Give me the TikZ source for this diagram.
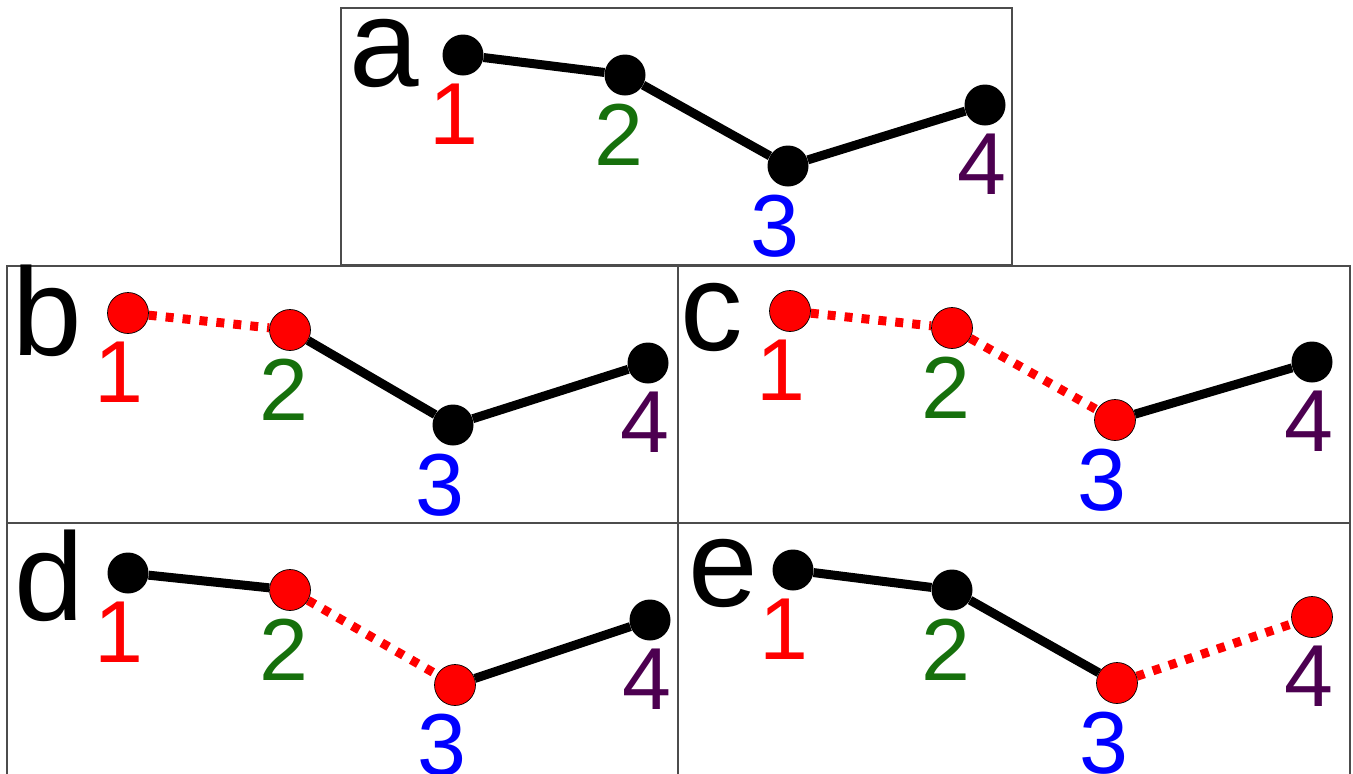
\documentclass[tikz,border=0pt]{standalone}
\usepackage{fontspec}
\setmainfont{Liberation Sans}
\usepackage{xcolor}
\usetikzlibrary{positioning, backgrounds}

\definecolor{numred}{RGB}{255,0,0}
\definecolor{numgreen}{RGB}{22,112,12}
\definecolor{numblue}{RGB}{0,0,255}
\definecolor{numpurple}{RGB}{76,0,80}

\tikzset{
    bead/.style={circle, fill=black, minimum size=41pt, inner sep=0pt},
    redbead/.style={circle, fill=numred, draw=black, line width=0.7pt, minimum size=41pt, inner sep=0pt},
    bond/.style={line width=9pt, black},
    cut/.style={line width=9pt, numred, dash pattern=on 8pt off 9pt},
    panel/.style={draw=black!70, line width=1.2pt},
    tag/.style={font=\fontsize{125}{125}\selectfont, anchor=base west, inner sep=0pt},
    num/.style={font=\fontsize{88}{88}\selectfont, inner sep=0pt, below=8pt of #1},
    lab1/.style={num=#1, numred, xshift=-9pt},
    lab2/.style={num=#1, numgreen, xshift=-6pt},
    lab3/.style={num=#1, numblue, xshift=-13pt},
    lab4/.style={num=#1, numpurple, xshift=-3pt},
}

\begin{document}
\begin{tikzpicture}[x=1pt, y=-1pt]
    \useasboundingbox (0,0) rectangle (1353,774);

    % Frames
    \draw[panel] (341,8) rectangle (1012,265);
    \draw[panel] (7,266) rectangle (678,523);
    \draw[panel] (678,266) rectangle (1350,523);
    \draw[panel] (7,523) rectangle (678,780);
    \draw[panel] (678,523) rectangle (1350,780);

    % Panel a: intact chain
    \begin{scope}[shift={(341,8)}]
        \node[tag] (tag-a) at (8,78) {a};
        \node[bead] (a1) at (122,47) {};
        \node[bead] (a2) at (284,67) {};
        \node[bead] (a3) at (447,158) {};
        \node[bead] (a4) at (644,97) {};
        \node[lab1=a1] (a1-l) {1};
        \node[lab2=a2] (a2-l) {2};
        \node[lab3=a3] (a3-l) {3};
        \node[lab4=a4] (a4-l) {4};
        \begin{scope}[on background layer]
            \draw[bond] (a1) -- (a2);
            \draw[bond] (a2) -- (a3);
            \draw[bond] (a3) -- (a4);
        \end{scope}
    \end{scope}

    % Panel b: bond 1-2 broken
    \begin{scope}[shift={(7,266)}]
        \node[tag] (tag-b) at (5,89) {b};
        \node[redbead] (b1) at (121,47) {};
        \node[redbead] (b2) at (283,64) {};
        \node[bead] (b3) at (446,159) {};
        \node[bead] (b4) at (641,97) {};
        \node[lab1=b1] (b1-l) {1};
        \node[lab2=b2] (b2-l) {2};
        \node[lab3=b3] (b3-l) {3};
        \node[lab4=b4] (b4-l) {4};
        \begin{scope}[on background layer]
            \draw[cut] (b1) -- (b2);
            \draw[bond] (b2) -- (b3);
            \draw[bond] (b3) -- (b4);
        \end{scope}
    \end{scope}

    % Panel c: bonds 1-2 and 2-3 broken
    \begin{scope}[shift={(678,266)}]
        \node[tag] (tag-c) at (2,84) {c};
        \node[redbead] (c1) at (112,45) {};
        \node[redbead] (c2) at (274,62) {};
        \node[redbead] (c3) at (437,154) {};
        \node[bead] (c4) at (634,96) {};
        \node[lab1=c1] (c1-l) {1};
        \node[lab2=c2] (c2-l) {2};
        \node[lab3=c3] (c3-l) {3};
        \node[lab4=c4] (c4-l) {4};
        \begin{scope}[on background layer]
            \draw[cut] (c1) -- (c2);
            \draw[cut] (c2) -- (c3);
            \draw[bond] (c3) -- (c4);
        \end{scope}
    \end{scope}

    % Panel d: bond 2-3 broken
    \begin{scope}[shift={(7,523)}]
        \node[tag] (tag-d) at (7,97) {d};
        \node[bead] (d1) at (121,50) {};
        \node[redbead] (d2) at (283,67) {};
        \node[redbead] (d3) at (448,162) {};
        \node[bead] (d4) at (643,97) {};
        \node[lab1=d1] (d1-l) {1};
        \node[lab2=d2] (d2-l) {2};
        \node[lab3=d3] (d3-l) {3};
        \node[lab4=d4] (d4-l) {4};
        \begin{scope}[on background layer]
            \draw[bond] (d1) -- (d2);
            \draw[cut] (d2) -- (d3);
            \draw[bond] (d3) -- (d4);
        \end{scope}
    \end{scope}

    % Panel e: bond 3-4 broken
    \begin{scope}[shift={(678,523)}]
        \node[tag] (tag-e) at (10,83) {e};
        \node[bead] (e1) at (115,47) {};
        \node[bead] (e2) at (274,67) {};
        \node[redbead] (e3) at (439,160) {};
        \node[redbead] (e4) at (634,94) {};
        \node[lab1=e1] (e1-l) {1};
        \node[lab2=e2] (e2-l) {2};
        \node[lab3=e3] (e3-l) {3};
        \node[lab4=e4] (e4-l) {4};
        \begin{scope}[on background layer]
            \draw[bond] (e1) -- (e2);
            \draw[bond] (e2) -- (e3);
            \draw[cut] (e3) -- (e4);
        \end{scope}
    \end{scope}
\end{tikzpicture}
\end{document}
